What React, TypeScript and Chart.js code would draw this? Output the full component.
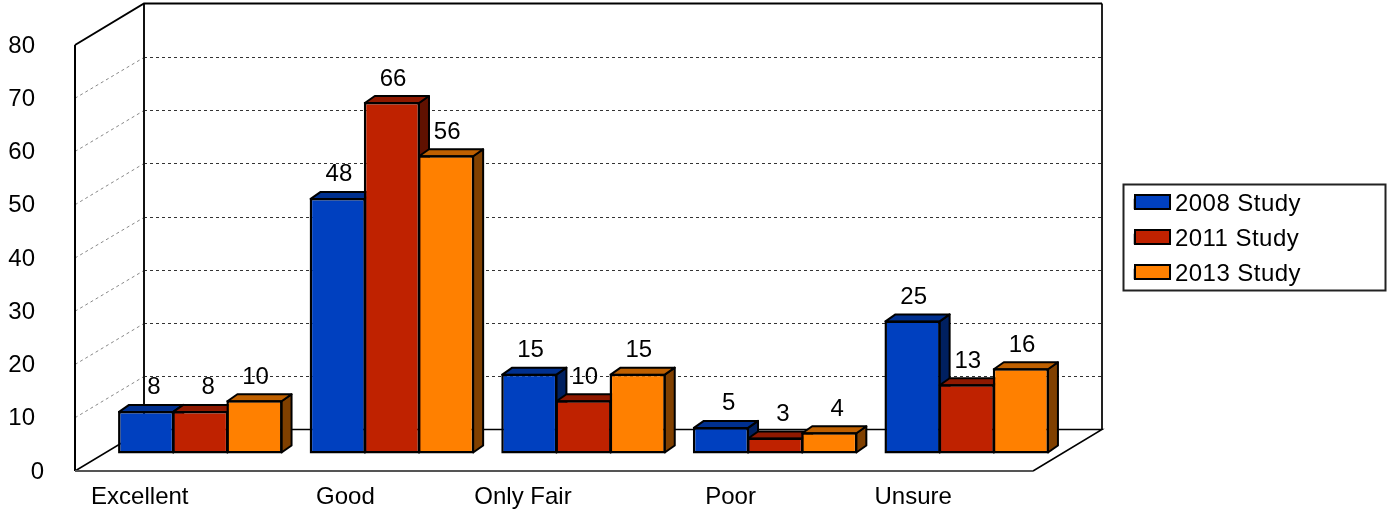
import React, { useEffect, useRef } from "react";
import { Chart, registerables } from "chart.js";

Chart.register(...registerables);

const categories = ["Excellent", "Good", "Only Fair", "Poor", "Unsure"];
const seriesNames = ["2008 Study", "2011 Study", "2013 Study"];
const values2008 = [8, 48, 15, 5, 25];
const values2011 = [8, 66, 10, 3, 13];
const values2013 = [10, 56, 15, 4, 16];
const gridValues = [10, 20, 30, 40, 50, 60, 70];

const frontColors = ["#0040BF", "#BF2200", "#FF8000"];
const topColors = ["#00308F", "#8F1900", "#BF6000"];
const sideColors = ["#002060", "#601100", "#804000"];

const FONT = "'Liberation Sans', Arial, sans-serif";
const WALL = { dx: 69, dy: -41.5 };
const BAR_PLANE = { dx: 29.5, dy: -17.5 };
const BAR_DEPTH = { dx: 10, dy: -7 };
const xLabelNudge = [-31, -17, -31, -15, -24];
const zeroNudge = 9;

const threeD = {
  id: "threeD",
  beforeLayout(chart: any) {
    const lg = chart.legend;
    if (lg && !lg.__wrapped) {
      const orig = lg.fit;
      lg.fit = function () {
        orig.call(this);
        this.width = 354;
      };
      const origDraw = lg.draw;
      lg.draw = function () {
        const c = this.ctx;
        c.save();
        c.letterSpacing = "0.45px";
        origDraw.call(this);
        c.restore();
      };
      lg.__wrapped = true;
    }
  },
  afterLayout(chart: any) {
    const lg = chart.legend;
    const pad = lg.options.labels.padding;
    lg.left = 1135 - pad;
    lg.right = 1386;
    lg.top = 192 - pad;
    lg.bottom = 420;
  },
  beforeDraw(chart: any) {
    const xs = chart.scales.x.getLabelItems();
    if (!xs.__n) {
      xs.forEach((it: any, i: number) => (it.options.translation[0] += xLabelNudge[i]));
      xs.__n = true;
    }
    const ys = chart.scales.y.getLabelItems();
    if (!ys.__n) {
      ys.forEach((it: any) => {
        it.options.translation[1] += 1;
        if (it.label === "0") it.options.translation[0] += zeroNudge;
      });
      ys.__n = true;
    }
  },
  beforeDatasetsDraw(chart: any) {
    const { ctx, chartArea: a, scales } = chart;
    const y = scales.y;
    const L = a.left, R = a.right, T = y.getPixelForValue(80), B = y.getPixelForValue(0);
    const d = WALL;
    ctx.save();
    const line = (pts: number[][], w: number, c: string, dash: number[] = []) => {
      ctx.beginPath();
      ctx.lineWidth = w;
      ctx.strokeStyle = c;
      ctx.setLineDash(dash);
      pts.forEach((p, i) => (i ? ctx.lineTo(p[0], p[1]) : ctx.moveTo(p[0], p[1])));
      ctx.stroke();
    };
    // grid
    gridValues.forEach((v) => {
      const py = Math.round(y.getPixelForValue(v) + d.dy) + 0.5;
      line([[L + d.dx, py], [R + d.dx, py]], 1, "#333", [3, 3]);
      line([[L, y.getPixelForValue(v)], [L + d.dx, py]], 1, "#888", [3, 3]);
    });
    // walls
    line([[L + d.dx, T + d.dy], [L + d.dx, B + d.dy]], 2, "#111");
    line([[R + d.dx, T + d.dy], [R + d.dx, B + d.dy]], 2, "#222");
    line([[L, T], [L + d.dx, T + d.dy], [R + d.dx, T + d.dy]], 2, "#000");
    line([[L, T], [L, B]], 2, "#000");
    line([[L, B], [L + d.dx, B + d.dy], [R + d.dx, B + d.dy], [R, B]], 1.5, "#000");
    line([[L, B], [R, B]], 2, "#555");

    // bar depth faces
    const metas = chart.getSortedVisibleDatasetMetas().slice().sort((m1: any, m2: any) => m1.index - m2.index);
    const poly = (pts: number[][], fill: string) => {
      ctx.beginPath();
      pts.forEach((p, i) => (i ? ctx.lineTo(p[0], p[1]) : ctx.moveTo(p[0], p[1])));
      ctx.closePath();
      ctx.fillStyle = fill;
      ctx.fill();
      ctx.lineWidth = 2;
      ctx.strokeStyle = "#000";
      ctx.setLineDash([]);
      ctx.lineJoin = "round";
      ctx.stroke();
    };
    const b = BAR_DEPTH;
    categories.forEach((_, i) => {
      metas.forEach((m: any) => {
        const el = m.data[i];
        const l = el.x - el.width / 2 + BAR_PLANE.dx + 1;
        const r = el.x + el.width / 2 + BAR_PLANE.dx - 1;
        const t = el.y + BAR_PLANE.dy + 1;
        const bt = el.base + BAR_PLANE.dy - 1;
        poly([[r, t], [r + b.dx, t + b.dy], [r + b.dx, bt + b.dy], [r, bt]], sideColors[m.index]);
        poly([[l, t], [l + b.dx, t + b.dy], [r + b.dx, t + b.dy], [r, t]], topColors[m.index]);
      });
    });
    ctx.restore();
    ctx.save();
    ctx.translate(BAR_PLANE.dx, BAR_PLANE.dy);
  },
  afterDatasetsDraw(chart: any) {
    const { ctx } = chart;
    ctx.restore();
    ctx.save();
    ctx.font = `24px ${FONT}`;
    ctx.fillStyle = "#000";
    ctx.textAlign = "right";
    ctx.textBaseline = "alphabetic";
    chart.getSortedVisibleDatasetMetas().forEach((m: any) => {
      m.data.forEach((el: any, i: number) => {
        const v = chart.data.datasets[m.index].data[i];
        ctx.fillText(String(v), el.x + BAR_PLANE.dx + 14.5, el.y + BAR_PLANE.dy - 16.5);
      });
    });
    ctx.restore();
  },
  afterDraw(chart: any) {
    const { ctx, legend } = chart;
    const lab = legend.options.labels;
    const rowHeight = lab.font.size + lab.padding;
    ctx.save();
    ctx.lineWidth = 2;
    ctx.strokeStyle = "#222";
    ctx.strokeRect(1123.5, 184.5, 262, 106);
    ctx.strokeStyle = "#000";
    seriesNames.forEach((_, i) => {
      const left = legend.left + lab.padding;
      const top = legend.top + lab.padding + i * rowHeight + 3;
      ctx.fillStyle = frontColors[i];
      ctx.fillRect(left, top, 35, 14);
      ctx.strokeRect(left, top, 35, 14);
    });
    ctx.restore();
  },
};

export default function App() {
  const ref = useRef<HTMLCanvasElement>(null);
  useEffect(() => {
    const seriesValues = [values2008, values2011, values2013];
    const chart = new Chart(ref.current!, {
      type: "bar",
      data: {
        labels: categories,
        datasets: seriesNames.map((name, i) => ({
          label: name,
          data: seriesValues[i],
          backgroundColor: frontColors[i],
          borderColor: "#000",
          borderWidth: 2.5,
          borderSkipped: false as any,
          inflateAmount: 0,
          categoryPercentage: 0.848,
          barPercentage: 1.037,
          clip: false as any,
        })),
      },
      options: {
        animation: false,
        responsive: false,
        layout: { padding: { top: 45, left: 0, right: 0, bottom: 0 } },
        plugins: {
          title: { display: false },
          tooltip: { enabled: false },
          legend: {
            display: true,
            position: "right",
            align: "start",
            labels: {
              boxWidth: 28,
              boxHeight: 8,
              padding: 11,
              color: "#000",
              font: { family: FONT, size: 24 },
            },
          },
        },
        scales: {
          x: {
            grid: { display: false, drawTicks: false },
            border: { display: false },
            ticks: {
              color: "#000",
              font: { family: FONT, size: 24 },
              padding: 12,
              autoSkip: false,
              maxRotation: 0,
            },
            afterFit: (s: any) => {
              s.height = 40;
              s.paddingLeft = 0;
              s.paddingRight = 0;
            },
          },
          y: {
            min: 0,
            max: 80,
            grid: { display: false, drawTicks: false },
            border: { display: false },
            ticks: {
              stepSize: 10,
              color: "#000",
              font: { family: FONT, size: 24 },
              padding: 40,
            },
            afterFit: (s: any) => {
              s.width = 75;
              s.paddingTop = 0;
              s.paddingBottom = 0;
            },
          },
        },
      },
      plugins: [threeD as any],
    });
    return () => chart.destroy();
  }, []);
  return (
    <canvas
      ref={ref}
      width={1387}
      height={511}
      style={{ position: "fixed", left: 0, top: 0, display: "block", background: "#fff" }}
    />
  );
}
